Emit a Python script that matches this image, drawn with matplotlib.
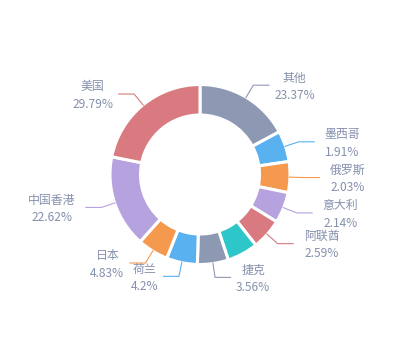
import numpy as np
import matplotlib
matplotlib.use("Agg")
import matplotlib.pyplot as plt

plt.rcParams['font.family'] = ['Noto Sans CJK SC', 'DejaVu Sans']

names = ['其他', '墨西哥', '俄罗斯', '意大利', '阿联酋', '', '捷克', '荷兰', '日本', '中国香港', '美国']
values = [23.37, 1.91, 2.03, 2.14, 2.59, 2.96, 3.56, 4.2, 4.83, 22.62, 29.79]
colors = ['#8d98b3', '#5ab1ef', '#f5994e', '#b6a2de', '#d87a80', '#2ec7c9',
          '#8d98b3', '#5ab1ef', '#f5994e', '#b6a2de', '#d87a80']
min_angle = 20

# echarts-style minAngle: small slices get min_angle, the rest share what is left
vals = np.array(values)
raw = vals / vals.sum() * 360
small = raw < min_angle
angles = np.where(small, min_angle, 0.0)
rest = 360 - angles.sum()
angles[~small] = vals[~small] / vals[~small].sum() * rest

W, H = 400, 350
cx, cy = 200, H - 174.5
r_out, r_in = 90, 59.5

fig = plt.figure(figsize=(4, 3.5), dpi=100)
ax = fig.add_axes([0, 0, 1, 1])
ax.set_xlim(0, W)
ax.set_ylim(0, H)
ax.axis('off')

ax.pie(angles, colors=colors, startangle=90, counterclock=False,
       center=(cx, cy), radius=r_out,
       wedgeprops=dict(width=r_out - r_in, edgecolor='white', linewidth=2.2))
ax.set_xlim(0, W)
ax.set_ylim(0, H)
ax.set_aspect('auto')

text_color = '#8590ad'
fs = 8.6
renderer = fig.canvas.get_renderer()

start = 90.0
for name, v, a, c in zip(names, values, angles, colors):
    mid = np.radians(start - a / 2)
    start -= a
    if not name:
        continue
    r0 = 89
    x0, y0 = cx + r0 * np.cos(mid), cy + r0 * np.sin(mid)
    x1, y1 = cx + (r0 + 15) * np.cos(mid), cy + (r0 + 15) * np.sin(mid)
    side = 1 if np.cos(mid) >= 0 else -1
    x2 = x1 + side * 16
    ax.plot([x0, x1, x2], [y0, y1, y1], color=c, lw=0.8, solid_capstyle='butt')

    pct = f'{v:g}%'
    t1 = ax.text(0, 0, name, fontsize=fs)
    t2 = ax.text(0, 0, pct, fontsize=fs)
    w1 = t1.get_window_extent(renderer).width
    w2 = t2.get_window_extent(renderer).width
    t1.remove()
    t2.remove()
    gap = 10 if w1 > w2 else 5
    ax.text(x2 + side * gap, y1 - 1.5, name + '\n' + pct, fontsize=fs, color=text_color,
            ha='left' if side > 0 else 'right', va='center', multialignment='center',
            linespacing=1.45)

fig.savefig('out.png', dpi=100)
